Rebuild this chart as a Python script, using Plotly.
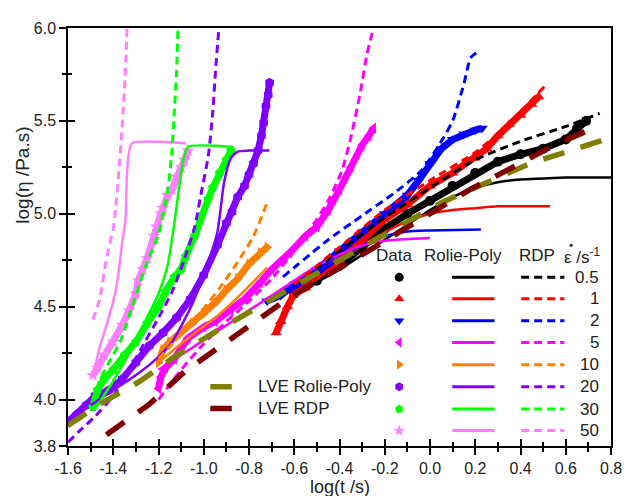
import plotly.graph_objects as go

# ---------------- data (log t, log eta) ----------------
rates = ["0.5", "1", "2", "5", "10", "20", "30", "50"]
colors = ["#000000", "#ff0000", "#0000ff", "#ff00ff", "#ff8000", "#7f00ff", "#00ff00", "#ff80ff"]
symbols = ["circle", "triangle-up", "triangle-down", "triangle-left", "triangle-right",
           "hexagon", "pentagon", "star"]

# experimental data
data_x_05 = [-0.6, -0.5, -0.4, -0.3, -0.2, -0.1, 0.0, 0.1, 0.2, 0.3, 0.4, 0.5, 0.6, 0.65, 0.69]
data_y_05 = [4.57, 4.64, 4.72, 4.82, 4.92, 5.0, 5.07, 5.15, 5.22, 5.28, 5.32, 5.35, 5.40, 5.46, 5.50]
data_x_1 = [-0.68, -0.66, -0.63, -0.6, -0.55, -0.5, -0.4, -0.3, -0.2, -0.1, 0.0, 0.1, 0.2, 0.25,
            0.3, 0.35, 0.4, 0.45, 0.48]
data_y_1 = [4.36, 4.42, 4.5, 4.57, 4.6, 4.66, 4.75, 4.86, 4.97, 5.05, 5.15, 5.22, 5.3, 5.35,
            5.42, 5.48, 5.53, 5.59, 5.63]
data_x_2 = [-0.72, -0.66, -0.6, -0.5, -0.4, -0.3, -0.2, -0.1, -0.05, 0.0, 0.05, 0.1, 0.15, 0.2, 0.23]
data_y_2 = [4.53, 4.56, 4.62, 4.7, 4.8, 4.9, 5.0, 5.1, 5.18, 5.27, 5.35, 5.4, 5.43, 5.45, 5.46]
data_x_5 = [-1.2, -1.19, -1.17, -1.13, -1.07, -1.0, -0.95, -0.88, -0.82, -0.75, -0.7, -0.62,
            -0.55, -0.5, -0.45, -0.4, -0.35, -0.3, -0.27, -0.25]
data_y_5 = [4.06, 4.12, 4.17, 4.22, 4.33, 4.39, 4.42, 4.48, 4.54, 4.63, 4.70, 4.79,
            4.88, 4.93, 5.02, 5.13, 5.25, 5.37, 5.42, 5.46]
data_x_10 = [-1.2, -1.18, -1.15, -1.1, -1.05, -1.0, -0.95, -0.9, -0.85, -0.8, -0.75, -0.72]
data_y_10 = [4.2, 4.27, 4.31, 4.36, 4.41, 4.46, 4.52, 4.59, 4.65, 4.73, 4.79, 4.82]
data_x_20 = [-1.6, -1.56, -1.52, -1.48, -1.42, -1.36, -1.3, -1.24, -1.18, -1.12, -1.06, -1.0,
             -0.94, -0.9, -0.875, -0.85, -0.82, -0.8, -0.78, -0.76, -0.745, -0.735, -0.725,
             -0.715, -0.709]
data_y_20 = [3.88, 3.92, 3.97, 4.02, 4.05, 4.11, 4.2, 4.29, 4.36, 4.44, 4.54, 4.67,
             4.83, 4.95, 5.01, 5.09, 5.15, 5.21, 5.27, 5.34, 5.42, 5.49, 5.58,
             5.64, 5.705]
data_x_30 = [-1.49, -1.47, -1.44, -1.4, -1.35, -1.3, -1.25, -1.2, -1.17, -1.13, -1.1, -1.08,
             -1.04, -1.01, -0.98, -0.96, -0.93, -0.9, -0.88]
data_y_30 = [3.96, 4.05, 4.11, 4.16, 4.24, 4.31, 4.41, 4.5, 4.58, 4.66, 4.7, 4.77,
             4.88, 4.99, 5.08, 5.14, 5.22, 5.29, 5.34]
data_x_50 = [-1.49, -1.47, -1.44, -1.4, -1.36, -1.33, -1.3, -1.29, -1.27, -1.25, -1.22, -1.21,
             -1.19, -1.18, -1.16, -1.14, -1.12, -1.1, -1.085, -1.07]
data_y_50 = [4.13, 4.17, 4.24, 4.31, 4.40, 4.48, 4.57, 4.64, 4.70, 4.76, 4.88, 4.93,
             5.0, 5.03, 5.1, 5.13, 5.2, 5.25, 5.29, 5.34]

# Rolie-Poly predictions
rp_x_05 = [-0.55, -0.4, -0.2, 0.0, 0.1, 0.2, 0.3, 0.4, 0.5, 0.6, 0.8]
rp_y_05 = [4.6, 4.7, 4.86, 5.02, 5.09, 5.14, 5.17, 5.185, 5.19, 5.195, 5.195]
rp_x_1 = [-0.6, -0.4, -0.2, -0.1, 0.0, 0.1, 0.2, 0.3, 0.53]
rp_y_1 = [4.58, 4.75, 4.9, 4.96, 5.0, 5.02, 5.03, 5.04, 5.04]
rp_x_2 = [-0.65, -0.5, -0.4, -0.3, -0.2, -0.1, 0.0, 0.225]
rp_y_2 = [4.56, 4.67, 4.76, 4.83, 4.88, 4.905, 4.91, 4.915]
rp_x_5 = [-1.2, -1.1, -1.0, -0.9, -0.8, -0.7, -0.6, -0.5, -0.4, -0.3, -0.2, 0.0]
rp_y_5 = [4.16, 4.24, 4.32, 4.40, 4.48, 4.56, 4.64, 4.72, 4.78, 4.83, 4.855, 4.87]
rp_x_10 = [-1.2, -1.07, -0.95, -0.85, -0.72]
rp_y_10 = [4.2, 4.33, 4.44, 4.55, 4.71]
rp_x_20 = [-1.5, -1.4, -1.29, -1.2, -1.14, -1.06, -1.0, -0.94, -0.91, -0.88, -0.85, -0.8, -0.71]
rp_y_20 = [3.97, 4.05, 4.14, 4.23, 4.31, 4.49, 4.67, 4.9, 5.17, 5.3, 5.335, 5.34, 5.34]
rp_x_30 = [-1.48, -1.4, -1.33, -1.26, -1.2, -1.16, -1.13, -1.11, -1.09, -1.07, -0.87]
rp_y_30 = [3.95, 4.1, 4.25, 4.42, 4.57, 4.72, 4.95, 5.13, 5.29, 5.36, 5.36]
rp_x_50 = [-1.49, -1.46, -1.42, -1.39, -1.375, -1.36, -1.346, -1.34, -1.332, -1.317, -1.08]
rp_y_50 = [4.13, 4.28, 4.44, 4.58, 4.7, 4.85, 4.97, 5.2, 5.32, 5.38, 5.38]

# RDP predictions
rdp_x_05 = [-0.6, -0.4, -0.2, 0.0, 0.2, 0.4, 0.6, 0.75]
rdp_y_05 = [4.62, 4.8, 4.98, 5.14, 5.29, 5.39, 5.47, 5.54]
rdp_x_1 = [-0.6, -0.4, -0.2, 0.0, 0.2, 0.3, 0.4, 0.51]
rdp_y_1 = [4.62, 4.82, 5.02, 5.18, 5.33, 5.43, 5.55, 5.69]
rdp_x_2 = [-0.65, -0.45, -0.3, -0.16, -0.04, 0.045, 0.1, 0.15, 0.18, 0.22]
rdp_y_2 = [4.66, 4.86, 4.99, 5.11, 5.23, 5.38, 5.5, 5.7, 5.84, 5.88]
rdp_x_5 = [-1.2, -1.1, -1.0, -0.9, -0.8, -0.7, -0.6, -0.5, -0.45, -0.39, -0.35, -0.31, -0.28, -0.25]
rdp_y_5 = [4.0, 4.16, 4.3, 4.42, 4.53, 4.65, 4.8, 4.97, 5.07, 5.23, 5.41, 5.64, 5.85, 6.0]
rdp_x_10 = [-1.2, -1.1, -1.0, -0.93, -0.85, -0.78, -0.72]
rdp_y_10 = [4.22, 4.35, 4.49, 4.6, 4.74, 4.88, 5.06]
rdp_x_20 = [-1.6, -1.55, -1.48, -1.4, -1.33, -1.26, -1.2, -1.14, -1.09, -1.04, -1.01, -0.98,
            -0.96, -0.948, -0.933]
rdp_y_20 = [3.77, 3.83, 3.91, 4.02, 4.16, 4.31, 4.44, 4.58, 4.74, 4.93, 5.12, 5.31,
            5.55, 5.77, 6.0]
rdp_x_30 = [-1.49, -1.46, -1.41, -1.37, -1.3, -1.25, -1.2, -1.16, -1.14, -1.13, -1.12, -1.114]
rdp_y_30 = [3.99, 4.1, 4.22, 4.31, 4.56, 4.74, 4.89, 5.12, 5.35, 5.55, 5.77, 6.0]
rdp_x_50 = [-1.49, -1.46, -1.43, -1.40, -1.39, -1.375, -1.36, -1.346, -1.339]
rdp_y_50 = [4.43, 4.54, 4.76, 4.92, 5.02, 5.23, 5.48, 5.77, 6.0]

# linear viscoelastic envelopes
lve_rp_x = [-1.6, -1.46, -1.28, -1.13, -0.97, -0.59, -0.3, -0.11, 0.05, 0.44, 0.8]
lve_rp_y = [3.86, 3.975, 4.10, 4.23, 4.35, 4.62, 4.82, 4.95, 5.06, 5.27, 5.41]
lve_rdp_x = [-1.43, -1.24, -1.085, -0.926, -0.767, -0.62, -0.3, 0.0, 0.176, 0.35, 0.55, 0.72]
lve_rdp_y = [3.81, 3.975, 4.15, 4.285, 4.42, 4.55, 4.78, 5.0, 5.13, 5.24, 5.37, 5.46]

x_ticks = [-1.6, -1.4, -1.2, -1.0, -0.8, -0.6, -0.4, -0.2, 0.0, 0.2, 0.4, 0.6, 0.8]
x_ticklabels = ["-1.6", "-1.4", "-1.2", "-1.0", "-0.8", "-0.6", "-0.4", "-0.2",
                "0.0", "0.2", "0.4", "0.6", "0.8"]
x_minor = [-1.5, -1.3, -1.1, -0.9, -0.7, -0.5, -0.3, -0.1, 0.1, 0.3, 0.5, 0.7]
y_ticks = [3.75, 4.0, 4.5, 5.0, 5.5, 6.0]
y_ticklabels = ["3.8", "4.0", "4.5", "5.0", "5.5", "6.0"]
y_minor = [4.25, 4.75, 5.25, 5.75]

data_x = [data_x_05, data_x_1, data_x_2, data_x_5, data_x_10, data_x_20, data_x_30, data_x_50]
data_y = [data_y_05, data_y_1, data_y_2, data_y_5, data_y_10, data_y_20, data_y_30, data_y_50]
rp_x = [rp_x_05, rp_x_1, rp_x_2, rp_x_5, rp_x_10, rp_x_20, rp_x_30, rp_x_50]
rp_y = [rp_y_05, rp_y_1, rp_y_2, rp_y_5, rp_y_10, rp_y_20, rp_y_30, rp_y_50]
rdp_x = [rdp_x_05, rdp_x_1, rdp_x_2, rdp_x_5, rdp_x_10, rdp_x_20, rdp_x_30, rdp_x_50]
rdp_y = [rdp_y_05, rdp_y_1, rdp_y_2, rdp_y_5, rdp_y_10, rdp_y_20, rdp_y_30, rdp_y_50]

FONT = "Arial, Liberation Sans, sans-serif"
XR = [-1.6, 0.8]
YR = [3.75, 6.0]

fig = go.Figure()

# data (dense bands of markers)
for i in range(len(rates)):
    fig.add_trace(go.Scatter(
        x=data_x[i], y=data_y[i], mode="lines+markers",
        line=dict(color=colors[i], width=7),
        marker=dict(symbol=symbols[i], size=10, color=colors[i]),
        showlegend=False, hoverinfo="skip"))

# Rolie-Poly solid
for i in range(len(rates)):
    fig.add_trace(go.Scatter(
        x=rp_x[i], y=rp_y[i], mode="lines",
        line=dict(color=colors[i], width=2.5, shape="spline", smoothing=0.6),
        showlegend=False, hoverinfo="skip"))

# RDP dashed
for i in range(len(rates)):
    fig.add_trace(go.Scatter(
        x=rdp_x[i], y=rdp_y[i], mode="lines",
        line=dict(color=colors[i], width=3, dash="8px,5px", shape="spline", smoothing=0.6),
        showlegend=False, hoverinfo="skip"))

# LVE envelopes
fig.add_trace(go.Scatter(x=lve_rp_x, y=lve_rp_y, mode="lines",
                         line=dict(color="#808000", width=5.5, dash="22px,17px"),
                         showlegend=False, hoverinfo="skip"))
fig.add_trace(go.Scatter(x=lve_rdp_x, y=lve_rdp_y, mode="lines",
                         line=dict(color="#800000", width=5.5, dash="22px,17px"),
                         showlegend=False, hoverinfo="skip"))

# ---------------- custom legend (in data coords) ----------------
leg_rows_y = [4.658, 4.543, 4.424, 4.307, 4.188, 4.069, 3.949, 3.833]
leg_sym_x = -0.136
leg_solid = (0.098, 0.285)
leg_dash = (0.403, 0.594)
leg_num_x = 0.755
leg_head_y = 4.775
leg_dot = (0.624, 4.83)   # dot over epsilon (strain rate symbol)

fig.add_trace(go.Scatter(
    x=[leg_sym_x] * len(rates), y=leg_rows_y, mode="markers",
    marker=dict(symbol=symbols, size=9, color=colors),
    showlegend=False, hoverinfo="skip", xaxis="x2", yaxis="y2"))
fig.add_trace(go.Scatter(
    x=[leg_dot[0]], y=[leg_dot[1]], mode="markers",
    marker=dict(symbol="circle", size=3, color="#222"),
    showlegend=False, hoverinfo="skip", xaxis="x2", yaxis="y2"))

shapes = []
annotations = []
for i in range(len(rates)):
    shapes.append(dict(type="line", xref="x", yref="y", x0=leg_solid[0], x1=leg_solid[1],
                       y0=leg_rows_y[i], y1=leg_rows_y[i],
                       line=dict(color=colors[i], width=3)))
    shapes.append(dict(type="line", xref="x", yref="y", x0=leg_dash[0], x1=leg_dash[1],
                       y0=leg_rows_y[i], y1=leg_rows_y[i],
                       line=dict(color=colors[i], width=3, dash="8px,5px")))
    annotations.append(dict(x=leg_num_x, y=leg_rows_y[i], xref="x", yref="y", text=rates[i],
                            showarrow=False, xanchor="right", yanchor="middle",
                            font=dict(family=FONT, size=17, color="#222")))

for txt, xc in [("Data", -0.158), ("Rolie-Poly", 0.147), ("RDP", 0.473),
                ("ε /s<sup>-1</sup>", 0.673)]:
    annotations.append(dict(x=xc, y=leg_head_y, xref="x", yref="y", text=txt,
                            showarrow=False, xanchor="center", yanchor="middle",
                            font=dict(family=FONT, size=17, color="#222")))

lve_leg = [("LVE Rolie-Poly", "#808000", 4.069), ("LVE RDP", "#800000", 3.952)]
for txt, col, yy in lve_leg:
    shapes.append(dict(type="line", xref="x", yref="y", x0=-0.971, x1=-0.876, y0=yy, y1=yy,
                       line=dict(color=col, width=5.5)))
    annotations.append(dict(x=-0.767, y=yy, xref="x", yref="y", text=txt, showarrow=False,
                            xanchor="left", yanchor="middle",
                            font=dict(family=FONT, size=17, color="#222")))

# axis titles
annotations.append(dict(x=0.5, y=-0.098, xref="paper", yref="paper", text="log(t /s)",
                        showarrow=False, xanchor="center", yanchor="middle",
                        font=dict(family=FONT, size=18, color="#222")))
annotations.append(dict(x=-0.0845, y=0.647, xref="paper", yref="paper", text="log(η /Pa.s)",
                        showarrow=False, xanchor="center", yanchor="middle", textangle=-90,
                        font=dict(family=FONT, size=19, color="#222")))

axis_common = dict(showgrid=False, zeroline=False)
fig.update_layout(
    width=626, height=488,
    margin=dict(l=60, r=14, t=15, b=50),
    paper_bgcolor="white", plot_bgcolor="white",
    font=dict(family=FONT, size=16, color="#222"),
    xaxis=dict(range=XR, tickvals=x_ticks, ticktext=x_ticklabels, ticks="outside",
               ticklen=7, tickwidth=1.5, tickcolor="black",
               showline=True, linecolor="black", linewidth=1.5, mirror=True,
               minor=dict(tickvals=x_minor, ticks="outside", ticklen=4, tickwidth=1.5,
                          tickcolor="black"),
               tickfont=dict(family=FONT, size=16, color="#222"), **axis_common),
    yaxis=dict(range=YR, tickvals=y_ticks, ticktext=y_ticklabels, ticks="outside",
               ticklen=7, tickwidth=1.5, tickcolor="black",
               showline=True, linecolor="black", linewidth=1.5, mirror=True,
               minor=dict(tickvals=y_minor, ticks="outside", ticklen=4, tickwidth=1.5,
                          tickcolor="black"),
               tickfont=dict(family=FONT, size=16, color="#222"), **axis_common),
    xaxis2=dict(range=XR, overlaying="x", anchor="y2", side="bottom", tickvals=x_ticks,
                ticks="inside", ticklen=7, tickwidth=1.5, tickcolor="black",
                showticklabels=False, showline=False,
                minor=dict(tickvals=x_minor, ticks="inside", ticklen=4, tickwidth=1.5,
                           tickcolor="black"), **axis_common),
    yaxis2=dict(range=YR, overlaying="y", anchor="x2", side="left", tickvals=y_ticks,
                ticks="inside", ticklen=7, tickwidth=1.5, tickcolor="black",
                showticklabels=False, showline=False,
                minor=dict(tickvals=y_minor, ticks="inside", ticklen=4, tickwidth=1.5,
                           tickcolor="black"), **axis_common),
    shapes=shapes, annotations=annotations, showlegend=False,
)

fig.write_html("out.html")
